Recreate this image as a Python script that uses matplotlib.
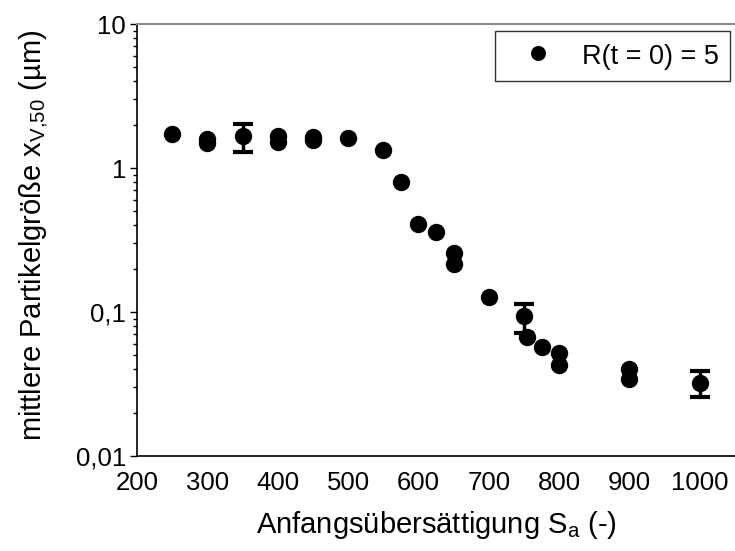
import matplotlib
matplotlib.use('agg')
import matplotlib.pyplot as plt
from matplotlib.ticker import FixedLocator, FuncFormatter, LogLocator, NullFormatter

# data
sa = [250, 300, 300, 350, 400, 400, 450, 450, 500, 550, 575, 600, 625,
      650, 650, 700, 750, 755, 775, 800, 800, 900, 900, 1000]
x50 = [1.72, 1.60, 1.50, 1.68, 1.66, 1.52, 1.65, 1.56, 1.61, 1.34, 0.80, 0.41,
       0.36, 0.255, 0.215, 0.127, 0.094, 0.067, 0.057, 0.052, 0.043, 0.040,
       0.034, 0.032]

# points with error bars: x, center, lower end, upper end
err_x = [350, 750, 1000]
err_y = [1.68, 0.094, 0.032]
err_lo = [1.29, 0.0714, 0.0258]
err_hi = [2.02, 0.1137, 0.039]

x_ticks = [200, 300, 400, 500, 600, 700, 800, 900, 1000]
y_ticks = [0.01, 0.1, 1, 10]
y_labels = ['0,01', '0,1', '1', '10']

plt.rcParams['font.family'] = ['Liberation Sans', 'DejaVu Sans']

fig = plt.figure(figsize=(7.35, 5.51), dpi=100)
ax = fig.add_axes([0.1864, 0.1724, 0.8136, 0.784])

yerr = [[c - lo for c, lo in zip(err_y, err_lo)],
        [hi - c for c, hi in zip(err_y, err_hi)]]
ax.errorbar(err_x, err_y, yerr=yerr, fmt='none', ecolor='black',
            elinewidth=2.5, capsize=7, capthick=3, zorder=2)
ax.plot(sa, x50, 'o', color='black', markersize=11.5, linestyle='none',
        label='R(t = 0) = 5', zorder=3)

ax.set_yscale('log')
ax.set_xlim(200, 1050)
ax.set_ylim(0.01, 10)

ax.yaxis.set_major_locator(FixedLocator(y_ticks))
ax.yaxis.set_major_formatter(FuncFormatter(lambda v, p: y_labels[y_ticks.index(v)] if v in y_ticks else ''))
ax.yaxis.set_minor_locator(LogLocator(base=10, subs=range(2, 10)))
ax.yaxis.set_minor_formatter(NullFormatter())

ax.xaxis.set_major_locator(FixedLocator(x_ticks))
ax.xaxis.set_minor_locator(FixedLocator([300, 500, 700, 900]))

ax.tick_params(axis='x', which='major', length=0, pad=11, labelsize=18.5)
ax.tick_params(axis='x', which='minor', length=4, width=1, direction='out')
ax.tick_params(axis='y', which='major', length=5, width=1, direction='out', labelsize=18.5, pad=3)
ax.tick_params(axis='y', which='minor', length=3, width=1, direction='out')

ax.spines['right'].set_visible(False)
ax.spines['top'].set_color('#8c8c8c')
ax.spines['top'].set_linewidth(1.5)
ax.spines['left'].set_linewidth(1.2)
ax.spines['bottom'].set_linewidth(1.2)

ax.set_xlabel('Anfangsübersättigung S$_\\mathregular{a}$ (-)', fontsize=21, labelpad=10)
ax.set_ylabel('mittlere Partikelgröße x$_\\mathregular{V{,}50}$ (µm)', fontsize=21)
ax.yaxis.set_label_coords(-0.145, 0.51)

leg = ax.legend(loc='upper right', bbox_to_anchor=(0.9917, 0.9838), fontsize=19.5,
                frameon=True, fancybox=False, edgecolor='black', borderpad=0.4,
                handlelength=2.34, handletextpad=0.47, handleheight=1.1,
                borderaxespad=0, markerscale=0.85)
leg.get_frame().set_linewidth(1.0)

fig.savefig('out.png', dpi=100)
